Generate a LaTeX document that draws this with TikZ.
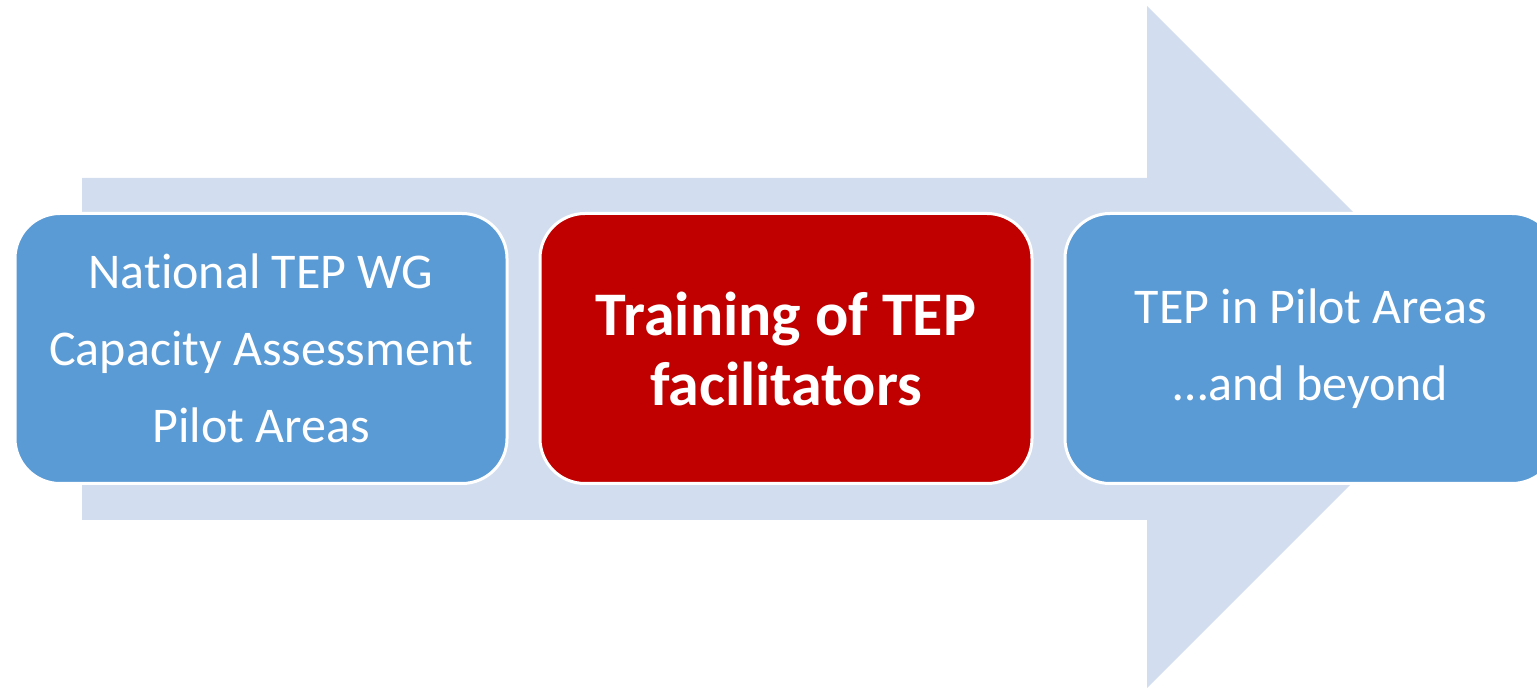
\documentclass[tikz,border=0pt]{standalone}
\usepackage{fontspec}
\setmainfont{Carlito}[Ligatures=NoCommon]
\usepackage{tikz}
\usepackage{xcolor}
\usetikzlibrary{positioning}
\definecolor{bandblue}{HTML}{D2DEEF}
\definecolor{boxblue}{HTML}{5B9BD5}
\definecolor{boxred}{HTML}{C00000}
\tikzset{
    stage-box/.style = {draw=white, fill=boxblue, text=white, line width=1.5pt, rectangle, rounded corners=22.5pt, minimum width=246pt, minimum height=135pt, outer sep=0pt, align=center, font=\fontsize{25}{38.5}\selectfont},
    stage-box-hot/.style = {stage-box, fill=boxred, font=\fontsize{31}{35}\selectfont\bfseries},
}

\begin{document}
\begin{tikzpicture}[x=0.5pt, y=-0.5pt]
\path[use as bounding box, clip] (0,0) rectangle (1537,688);
\fill[bandblue] (82,178) -- (1147,178) -- (1147,6) -- (1488,347) -- (1147,688) -- (1147,520) -- (82,520) -- cycle;
\node[stage-box] (assess) at (261,348.5) {National TEP WG\\Capacity Assessment\\Pilot Areas};
\node[stage-box-hot, right=16.5pt of assess] (train) {Training of TEP\\facilitators};
\node[stage-box, right=16.5pt of train] (scale) {TEP in Pilot Areas\\…and beyond};
\end{tikzpicture}
\end{document}
